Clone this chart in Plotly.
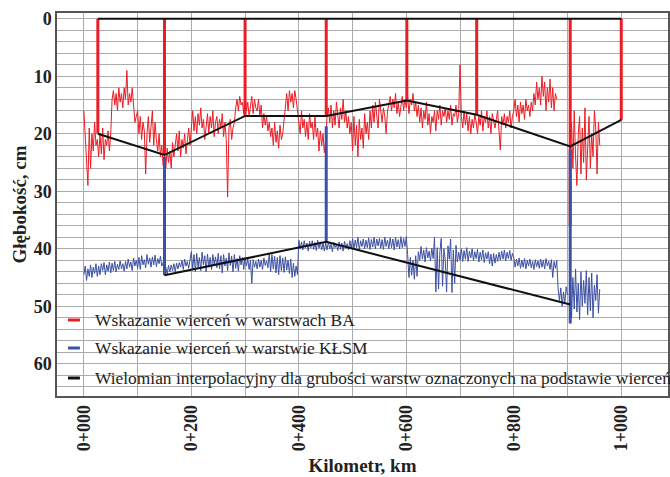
import plotly.graph_objects as go

# ---------------- data ----------------
STEP = 2.5  # m between readings

# BA layer drilling-indicated depth, cm (0..880 m, then 905..960 m)
ba_seg1 = [16, 21, 24, 29, 19, 26, 20, 23, 18, 22,
           21, 24, 20, 23.5, 19, 24.5, 21, 22, 19.5, 23,
           20, 14, 12.5, 15, 13, 16, 12, 14.5, 13, 15.5,
           12, 14, 9, 15, 13, 14.5, 12, 16, 18, 17,
           16, 20, 17, 21, 18, 19.5, 27, 20, 17, 21.5,
           19, 16, 22, 18, 21, 23, 20, 24, 22, 25.5,
           24, 26, 22.5, 25, 23, 26, 21.5, 24, 22, 20,
           23, 19.5, 24, 21, 22.5, 20, 23.5, 21, 19, 22,
           18, 16, 19.5, 17, 20, 16.5, 18.5, 15.5, 19, 17.5,
           21, 18, 16.5, 20, 17, 19, 16, 20.5, 18, 17,
           20, 17.5, 19, 16.5, 20.5, 18, 21, 31, 19, 17.5,
           21, 19, 18, 15.5, 14, 16, 13.5, 15, 14.5, 16.5,
           13.5, 16, 14.5, 17, 15, 13.5, 16.5, 14, 15.5, 16,
           14, 17, 15, 19, 16.5, 18.5, 17, 19.5, 18, 20.5,
           19, 22, 18, 21.5, 19.5, 22.5, 18.5, 21, 20, 18,
           15, 13, 16, 12.5, 14.5, 13, 15.5, 12.5, 14, 16,
           17, 20, 16, 19, 17.5, 20.5, 18, 21, 16.5, 19,
           18, 21, 17, 20.5, 19, 23, 19.5, 22, 20, 23.3,
           21, 17, 15.5, 18, 15, 19, 16, 18.5, 14.5, 17,
           19, 15.5, 17.5, 14, 18, 16, 19, 17, 20, 18,
           23, 17, 22, 18.5, 24, 17.5, 21, 19, 22.5, 16.5,
           20, 18, 21, 16, 19, 15, 18, 14.5, 17, 19,
           14, 16.5, 18, 15.5, 17, 20, 16, 15, 13.5, 16,
           14, 15.5, 13, 16.5, 14.5, 17, 15, 13.5, 16, 14,
           15.5, 13.5, 16.5, 14, 15, 13, 16, 14.5, 17, 15,
           18, 15.5, 19, 16, 17.5, 14.5, 18.5, 16.5, 20, 17,
           18, 16, 19.5, 16, 17.5, 15, 18.5, 16, 17, 15.5,
           18, 16, 17.5, 15, 18.5, 16.5, 17, 15, 18, 16.5,
           8, 17, 19, 16, 18.5, 16.5, 19.5, 17, 20, 17.5,
           19, 16.5, 18, 20, 17, 18.5, 16, 19.5, 17, 18,
           16, 19, 17, 20, 16.5, 18, 19, 17.5, 16, 19.5,
           22.8, 17, 18.5, 16.5, 19, 17, 18, 16, 19, 17,
           16, 14, 17, 15, 18, 14.5, 16.5, 15, 17.5, 14,
           16, 15, 17, 14.5, 16, 13, 15, 11, 14, 12,
           15, 10, 13.5, 11, 16, 12, 14.5, 10.5, 15.5, 12,
           16, 13, 14]
ba_seg1_start = 0
ba_seg2 = [22, 18, 26, 16, 24, 29, 20, 17, 27, 19, 25, 15.5, 28, 21, 17, 26, 20, 24, 16,
           19, 27, 18, 22]
ba_seg2_start = 905

# KŁSM layer drilling-indicated depth, cm (0..900 m, then 905..960 m)
klsm_seg1 = [44.5, 43, 45.5, 43.5, 44.8, 42.8, 45, 43.2, 44.3, 42.6,
             44.8, 43, 44.5, 42.6, 43.8, 42.4, 44.5, 42.8, 43.9, 42.3,
             44.2, 42.5, 43.8, 42.2, 44, 42.7, 43.6, 42.1, 43.5, 42.6,
             43.9, 42.2, 43.5, 41.8, 43.2, 42.3, 43.8, 41.6, 43, 42,
             43.4, 41.5, 43.6, 41.2, 42.8, 41.9, 43.3, 41, 42.7, 41.6,
             43.2, 41.4, 42.8, 41.1, 43.1, 41.7, 42.6, 41.3, 43, 42.4,
             44.3, 43.2, 44.4, 42.9, 44, 42.8, 43.8, 42.6, 44, 42.5,
             43.5, 42.4, 43.2, 42, 43.6, 41.8, 43, 42.2, 43.4, 41.6,
             40.5, 43.5, 41, 44, 40.8, 43.2, 41.5, 43.8, 40.6, 42.8,
             41.2, 44, 40.9, 43.2, 41.5, 43.6, 41, 42.7, 41.4, 43.3,
             40.8, 43.5, 41.2, 44.2, 41, 43, 41.6, 43.8, 40.7, 42.9,
             41.3, 44, 41, 43.4, 41.7, 43.9, 41.2, 42.8, 41.5, 43.6,
             41.5, 43, 41.8, 43.6, 42, 46, 41.9, 43.2, 42.2, 43.5,
             41.8, 43.2, 42, 43.6, 41.6, 42.9, 42.1, 43.3, 40.8, 44,
             41, 43.5, 41.3, 44.2, 41.5, 44.5, 41.2, 43.8, 41.6, 44.1,
             41.4, 43.7, 42, 44.3, 41.8, 45, 42.5, 44.8, 43, 44.5,
             38.5, 40, 38.8, 40.2, 38.6, 39.8, 39, 40.4, 38.7, 39.8,
             38.6, 40.1, 38.9, 40.3, 38.5, 39.9, 38.8, 40.2, 39, 40.4,
             39, 40.2, 38.8, 40, 39.2, 40.5, 38.9, 39.8, 39.3, 40.3,
             38.8, 40.1, 39, 40.4, 38.7, 39.9, 39.1, 40.2, 38.6, 40,
             38.2, 40, 38.5, 39.8, 38, 40.2, 38.6, 39.6, 38.3, 40,
             38.5, 39.8, 38.1, 40.1, 38.4, 39.7, 38, 40, 38.3, 39.5,
             38.2, 39.9, 38.4, 40.1, 38, 39.6, 38.5, 40, 38.1, 39.8,
             38.3, 40.2, 38, 39.7, 38.4, 40, 37.9, 39.8, 38.2, 39.6,
             37.9, 41, 45, 41.5, 44.6, 42, 45.3, 41.2, 44.8, 40.5,
             42, 39.6, 41.8, 40.2, 42.3, 39.8, 41.6, 40.4, 42.1, 39.9,
             41.7, 38, 47.5, 39.8, 47, 40.5, 38.2, 46.5, 40, 42,
             47.5, 39.5, 41.8, 38.3, 47.6, 40.2, 46, 39.4, 42.3, 40.6,
             42, 40, 42.2, 40.3, 41.8, 39.8, 42.2, 40.4, 41.6, 40,
             42.1, 40.5, 41.7, 40.1, 42.3, 40.6, 41.9, 40.2, 42.4, 40.7,
             41.8, 40.5, 42.6, 40.9, 43, 40.8, 42.5, 41, 42.2, 40.6,
             42, 40.4, 41.8, 40.2, 42.1, 40.6, 41.7, 40.3, 42, 40.8,
             41.5, 43.2, 41.8, 43, 41.6, 43.4, 42, 43.2, 41.7, 43.5,
             42, 43, 41.8, 43.3, 42.2, 43.6, 41.9, 43.1, 42.1, 43.4,
             41.8, 43.2, 42, 43.5, 41.7, 43, 42.2, 43.6, 41.9, 45,
             42.2, 43.4, 42, 47, 49, 46.8, 50, 47.5, 49.5, 46.6,
             48]
klsm_seg1_start = 0
klsm_seg2 = [44, 52, 45, 50.5, 43.5, 51, 46, 52.3, 44, 50, 45.5, 49.5, 43.8, 51.5, 45, 50.8,
             44.2, 52, 46.3, 49, 44.5, 51.2, 47]
klsm_seg2_start = 905

# Drill points (position in m) and interpolated layer thickness, cm
drill_ba_x = [26, 150, 300, 451, 601, 731, 905, 1000]
drill_ba_y = [20, 23.7, 16.9, 16.9, 14.2, 16.7, 22.2, 17.6]
drill_ba_bar_end = [20, 23.7, 16.9, 16.9, 14.2, 16.7, 36, 17.6]

drill_kl_x = [150, 451, 905]
drill_kl_y = [44.6, 38.8, 49.7]
drill_kl_bar_top = [24, 18.7, 22.8]
drill_kl_bar_end = [44.6, 39, 53]

x_tick_vals = [0, 100, 200, 300, 400, 500, 600, 700, 800, 900, 1000]
x_tick_text = ["0+000", "", "0+200", "", "0+400", "", "0+600", "", "0+800", "", "1+000"]
y_tick_vals = list(range(0, 65, 2))
y_tick_text = [str(v) if v % 10 == 0 else "" for v in y_tick_vals]

legend_labels = ["Wskazanie wierceń w warstwach BA",
                 "Wskazanie wierceń w warstwie KŁSM",
                 "Wielomian interpolacyjny dla grubości warstw oznaczonych na podstawie wierceń"]

# ---------------- styles ----------------
RED = "#ec1c24"
BLUE = "#3c50a4"
BLACK = "#111111"
GRID = "#ababab"
FONT = "Liberation Serif, Times New Roman, serif"


def seg_x(start, vals):
    return [start + STEP * i for i in range(len(vals))]


fig = go.Figure()

# noisy red series
fig.add_trace(go.Scatter(
    x=seg_x(ba_seg1_start, ba_seg1) + [None] + seg_x(ba_seg2_start, ba_seg2),
    y=ba_seg1 + [None] + ba_seg2,
    mode="lines", line=dict(color=RED, width=1), showlegend=False, hoverinfo="skip"))

# noisy blue series
fig.add_trace(go.Scatter(
    x=seg_x(klsm_seg1_start, klsm_seg1) + [None] + seg_x(klsm_seg2_start, klsm_seg2),
    y=klsm_seg1 + [None] + klsm_seg2,
    mode="lines", line=dict(color=BLUE, width=1), showlegend=False, hoverinfo="skip"))

# red drill bars
bx, by = [], []
for x, e in zip(drill_ba_x, drill_ba_bar_end):
    bx += [x, x, None]
    by += [0, e, None]
fig.add_trace(go.Scatter(x=bx, y=by, mode="lines", line=dict(color=RED, width=3),
                         showlegend=False, hoverinfo="skip"))

# blue drill bars
bx, by = [], []
for x, t, e in zip(drill_kl_x, drill_kl_bar_top, drill_kl_bar_end):
    bx += [x, x, None]
    by += [t, e, None]
fig.add_trace(go.Scatter(x=bx, y=by, mode="lines", line=dict(color=BLUE, width=3),
                         showlegend=False, hoverinfo="skip"))

# black interpolation lines
fig.add_trace(go.Scatter(x=[drill_ba_x[0], drill_ba_x[-1]], y=[0, 0], mode="lines",
                         line=dict(color=BLACK, width=2), showlegend=False, hoverinfo="skip"))
fig.add_trace(go.Scatter(x=drill_ba_x, y=drill_ba_y, mode="lines",
                         line=dict(color=BLACK, width=2), showlegend=False, hoverinfo="skip"))
fig.add_trace(go.Scatter(x=drill_kl_x, y=drill_kl_y, mode="lines",
                         line=dict(color=BLACK, width=2), showlegend=False, hoverinfo="skip"))

# ---------------- layout ----------------
L, R, T, B = 57, 0, 13, 81
W, H = 670, 477
pw, ph = W - L - R, H - T - B


def px_to_paper(px, py):
    return (px - L) / pw, (H - B - py) / ph


shapes, annotations = [], []
leg_colors = [RED, BLUE, BLACK]
leg_py = [320, 348, 378]
for lab, col, py in zip(legend_labels, leg_colors, leg_py):
    x0, y0 = px_to_paper(68, py)
    x1, _ = px_to_paper(80, py)
    shapes.append(dict(type="line", xref="paper", yref="paper", x0=x0, x1=x1, y0=y0, y1=y0,
                       line=dict(color=col, width=3)))
    tx, _ = px_to_paper(93, py)
    annotations.append(dict(text=lab, xref="paper", yref="paper", x=tx, y=y0, xanchor="left",
                            yanchor="middle", showarrow=False,
                            font=dict(family=FONT, size=17.4, color="#222")))

fig.update_layout(
    width=W, height=H,
    margin=dict(l=L, r=R, t=T, b=B),
    paper_bgcolor="white", plot_bgcolor="white",
    font=dict(family=FONT, color="#222"),
    shapes=shapes, annotations=annotations,
    showlegend=False,
    xaxis=dict(range=[-50, 1087], tickmode="array", tickvals=x_tick_vals, ticktext=x_tick_text,
               tickangle=-90, tickfont=dict(family=FONT, size=18, weight="bold", color="#222"),
               showgrid=True, gridcolor=GRID, gridwidth=1, zeroline=False,
               showline=True, linecolor="#555", linewidth=1.5, mirror=True, ticks="",
               title=dict(text="Kilometr, km", font=dict(family=FONT, size=19, weight="bold"),
                          standoff=8)),
    yaxis=dict(range=[65.6, -1], tickmode="array", tickvals=y_tick_vals, ticktext=y_tick_text,
               tickfont=dict(family=FONT, size=18, weight="bold", color="#222"),
               showgrid=True, gridcolor=GRID, gridwidth=1, zeroline=False,
               showline=True, linecolor="#555", linewidth=1.5, mirror=True, ticks="",
               title=dict(text="Głębokość, cm", font=dict(family=FONT, size=19, weight="bold"),
                          standoff=2)),
)

fig.write_html("out.html")
